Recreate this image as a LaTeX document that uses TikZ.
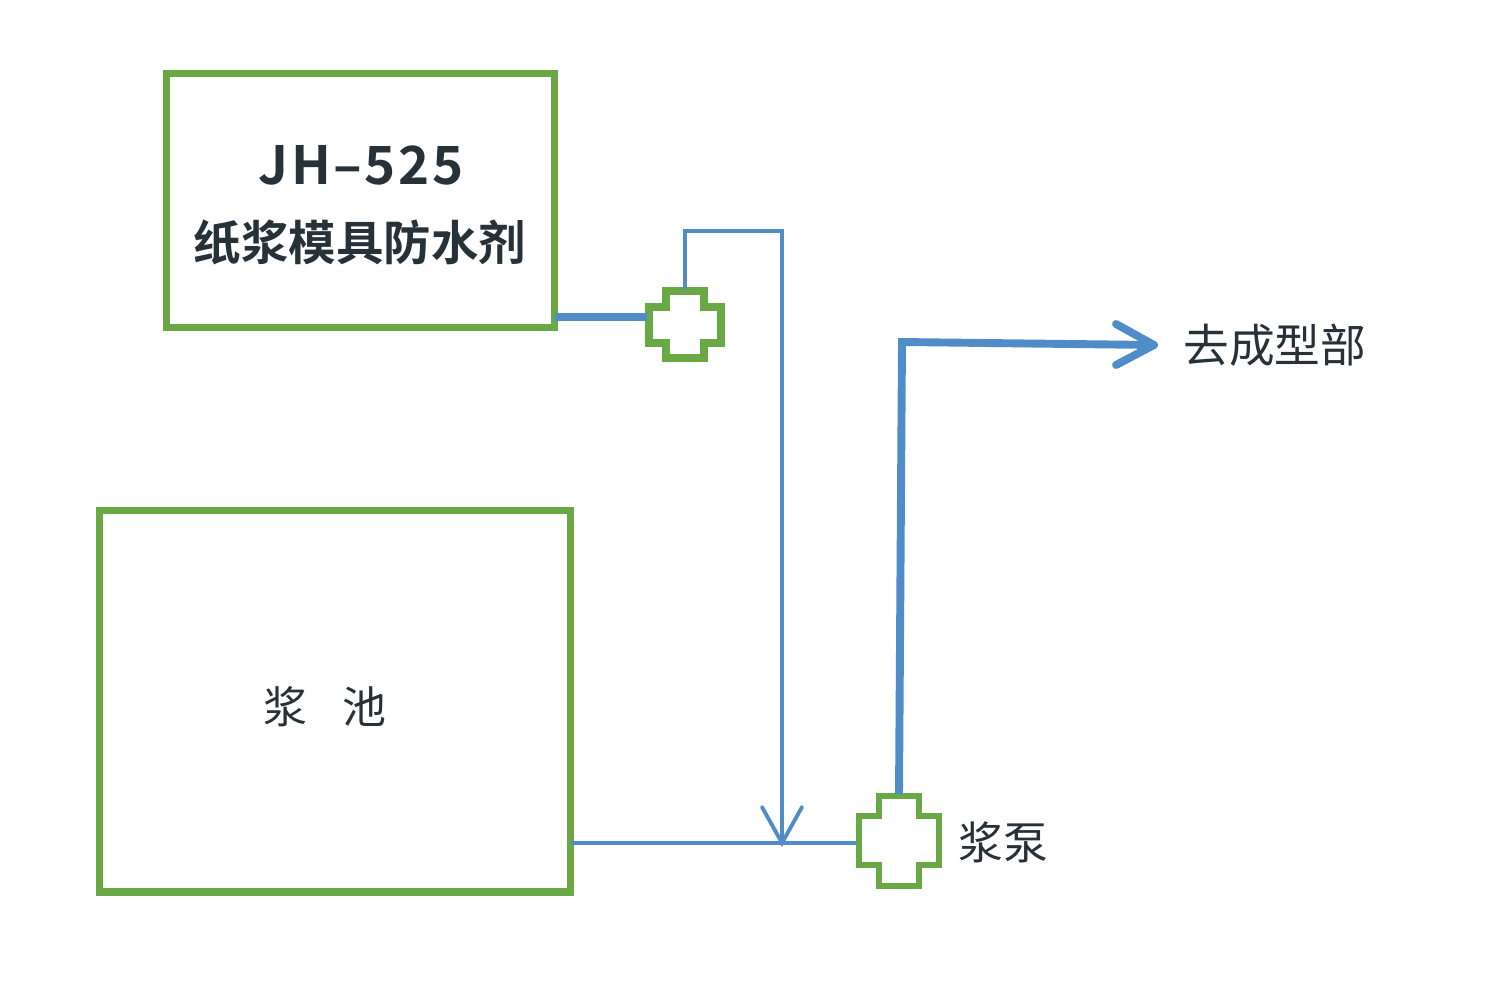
\documentclass[tikz,border=0pt]{standalone}
\usepackage{fontspec}
\newfontfamily\cjk{Noto Sans CJK SC}[BoldFont={Noto Sans CJK SC Bold}]
\definecolor{boxgreen}{RGB}{106,168,69}
\definecolor{pipeblue}{RGB}{80,140,200}
\definecolor{txt}{RGB}{38,50,56}
\tikzset{
  greenbox/.style={draw=boxgreen, line width=4pt},
  thickpipe/.style={draw=pipeblue, line width=4.5pt},
  thinpipe/.style={draw=pipeblue, line width=2.2pt},
  lbl/.style={text=txt, inner sep=0pt, font=\cjk},
}
\begin{document}
\begin{tikzpicture}[x=0.02cm, y=-0.02cm]
\useasboundingbox[fill=white] (0,0) rectangle (1500,1000);
% boxes
\draw[greenbox] (166.5,73.5) rectangle (554.5,327.5);
\coordinate (topbox) at (554.5,317);
\draw[greenbox] (99.5,510.5) rectangle (570.5,892);
\coordinate (pool) at (570.5,843);
\node[lbl, font=\cjk\bfseries\fontsize{30pt}{30pt}\selectfont\addfontfeature{LetterSpace=5}] (jh) at (361,165) {JH–525};
\node[lbl, font=\cjk\bfseries\fontsize{27pt}{27pt}\selectfont] (agent) at (360,242) {纸浆模具防水剂};
\node[lbl, font=\cjk\fontsize{25pt}{25pt}\selectfont] (poollbl) at (325,707) {浆\hspace{0.8em}池};
% cross 1 (valve)
\draw[draw=boxgreen, line width=4.5pt, line join=miter]
  (666,291) -- (704,291) -- (704,307) -- (721,307) -- (721,343) -- (704,343) -- (704,358)
  -- (666,358) -- (666,343) -- (649,343) -- (649,307) -- (666,307) -- cycle;
\coordinate (c1left) at (647,317);
\coordinate (c1top) at (685,289);
% cross 2 (pump)
\draw[draw=boxgreen, line width=3.6pt, line join=miter]
  (879,796) -- (919,796) -- (919,816) -- (939,816) -- (939,865) -- (919,865) -- (919,886)
  -- (879,886) -- (879,865) -- (859,865) -- (859,816) -- (879,816) -- cycle;
\coordinate (c2left) at (857,843);
\coordinate (c2top) at (899,794);
\node[lbl, font=\cjk\fontsize{25.5pt}{25.5pt}\selectfont, anchor=west] (pumplbl) at (958,842) {浆泵};
% pipes
\draw[thickpipe] (topbox) -- (c1left);
\coordinate (loopA) at (685,231);
\coordinate (loopB) at (782,231);
\coordinate (join) at (782,843);
\draw[thinpipe] (c1top) -- (loopA) -- (loopB) -- (join);
\draw[thinpipe, line cap=round] (762,807) -- (join) -- (802,807);
\draw[thinpipe] (pool) -- (c2left);
\coordinate (up) at (902,342);
\coordinate (tip) at (1154,345);
\draw[thickpipe] (c2top) -- (up) -- (tip);
\draw[thickpipe, line cap=round, line join=round] (1116,324) -- (tip) -- (1116,365);
\node[lbl, font=\cjk\fontsize{26pt}{26pt}\selectfont, anchor=west] (dest) at (1183,345) {去成型部};
\end{tikzpicture}
\end{document}
